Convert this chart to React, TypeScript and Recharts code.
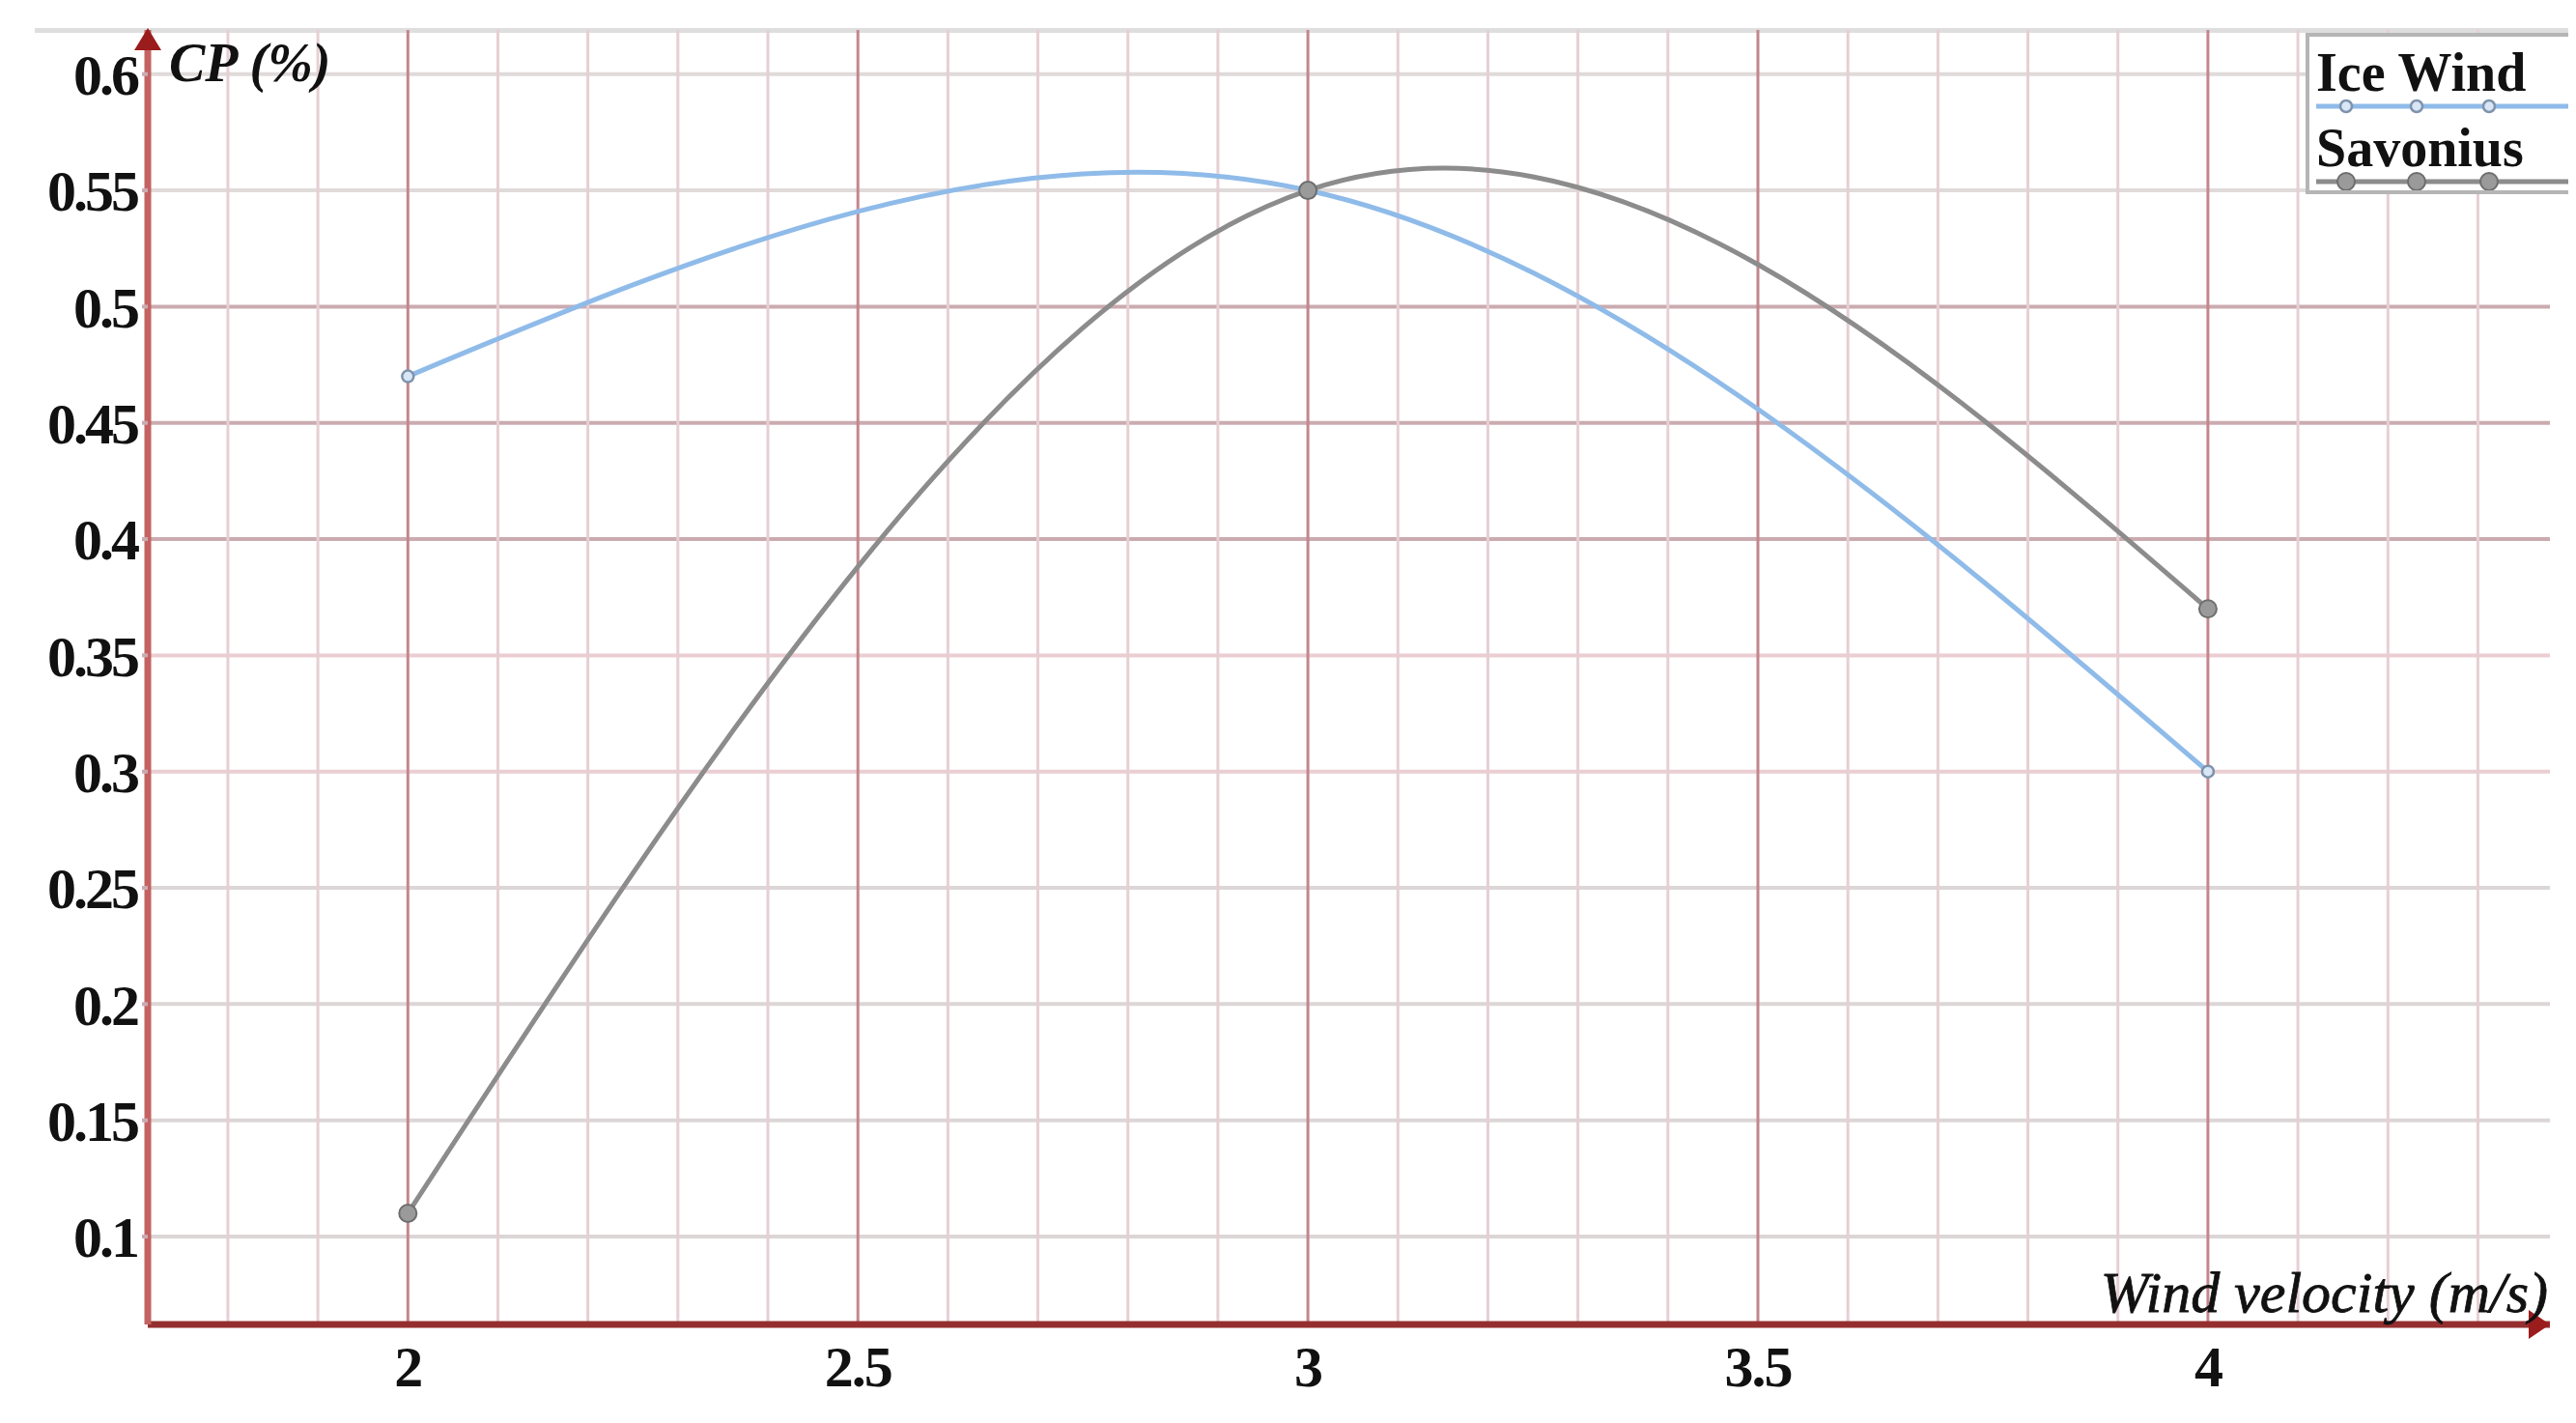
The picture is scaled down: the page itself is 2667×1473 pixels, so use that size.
import { LineChart, Line, XAxis, YAxis, ReferenceLine, Legend } from "recharts";

const velocity = [2, 3, 4];
const iceWind = [0.47, 0.55, 0.3];
const savonius = [0.11, 0.55, 0.37];

const xTicks = [2, 2.5, 3, 3.5, 4];
const xMinor = [
  1.8, 1.9, 2.1, 2.2, 2.3, 2.4, 2.6, 2.7, 2.8, 2.9, 3.1, 3.2, 3.3, 3.4, 3.6,
  3.7, 3.8, 3.9, 4.1, 4.2, 4.3,
];
const yTicks = [0.1, 0.15, 0.2, 0.25, 0.3, 0.35, 0.4, 0.45, 0.5, 0.55, 0.6];

const data = velocity.map((v, i) => ({
  v,
  iceWind: iceWind[i],
  savonius: savonius[i],
}));

const SERIF = "'Liberation Serif', 'Times New Roman', serif";
const BLUE = "#8fbbe9";
const GREY = "#8c8c8c";

// horizontal grid tints vary a bit in the original scan
function hColor(v: number) {
  if (v >= 0.55) return "#e0dada";
  if (v >= 0.4) return "#cbabb0";
  if (v >= 0.3) return "#ebcdd2";
  return "#dcd6d7";
}

function YAxisDecor(props: any) {
  const { x, y, width } = props.viewBox;
  const ax = x + width;
  return (
    <g>
      <polygon
        points={`${ax},${y - 2} ${ax - 14},${y + 21} ${ax + 14},${y + 21}`}
        fill="#9b1c1c"
      />
      <text
        x={ax + 22}
        y={y + 34}
        dominantBaseline="central"
        fontFamily={SERIF}
        fontStyle="italic"
        fontWeight={700}
        fontSize={56}
        fill="#111"
      >
        CP (%)
      </text>
    </g>
  );
}

function XAxisDecor(props: any) {
  const { x, y, width } = props.viewBox;
  const end = x + width;
  return (
    <g>
      <polygon
        points={`${end},${y} ${end - 22},${y - 15} ${end - 22},${y + 15}`}
        fill="#9b1c1c"
      />
      <text
        x={end - 2}
        y={y - 13}
        textAnchor="end"
        fontFamily={SERIF}
        fontStyle="italic"
        fontSize={60}
        fill="#111"
        stroke="#111"
        strokeWidth={0.8}
      >
        Wind velocity (m/s)
      </text>
    </g>
  );
}

function LegendBox({ payload }: any) {
  const items = payload || [];
  return (
    <div
      style={{
        width: 300,
        height: 167,
        boxSizing: "border-box",
        borderTop: "4px solid #b5b5b5",
        borderLeft: "4px solid #b5b5b5",
        borderBottom: "4px solid #b5b5b5",
        background: "#fff",
      }}
    >
      <svg width={296} height={159} style={{ display: "block" }}>
        {items.map((item: any, i: number) => {
          const ty = 37 + i * 78;
          const ly = ty + 35;
          const ice = item.dataKey === "iceWind";
          return (
            <g key={item.value}>
              <text
                x={7}
                y={ty}
                dominantBaseline="central"
                fontFamily={SERIF}
                fontWeight={700}
                fontSize={56}
                fill="#111"
              >
                {item.value}
              </text>
              <line x1={7} x2={296} y1={ly} y2={ly} stroke={item.color} strokeWidth={5} />
              {[38, 111, 186].map((mx) =>
                ice ? (
                  <circle key={mx} cx={mx} cy={ly} r={6} fill="#d8e6f6" stroke="#7f93ad" strokeWidth={2.5} />
                ) : (
                  <circle key={mx} cx={mx} cy={ly} r={9} fill="#9a9a9a" stroke="#6e6e6e" strokeWidth={2} />
                )
              )}
            </g>
          );
        })}
      </svg>
    </div>
  );
}

export default function App() {
  return (
    <div style={{ position: "relative", width: 2651, height: 1457, overflow: "hidden", background: "#fff" }}>
      <div
        style={{
          position: "absolute",
          top: 21,
          left: 28,
          right: 0,
          height: 5,
          background: "#dedede",
        }}
      />
      <LineChart
        width={2651}
        height={1457}
        data={data}
        margin={{ top: 23, right: 19, bottom: 0, left: 0 }}
      >
        {yTicks.map((t) => (
          <ReferenceLine key={`h${t}`} y={t} stroke={hColor(t)} strokeWidth={4} />
        ))}
        {xMinor.map((t) => (
          <ReferenceLine key={`m${t}`} x={t} stroke="#e6cfd3" strokeWidth={3} />
        ))}
        {xTicks.map((t) => (
          <ReferenceLine key={`M${t}`} x={t} stroke="#c4868d" strokeWidth={3} />
        ))}
        <XAxis
          dataKey="v"
          type="number"
          domain={[1.711, 4.38]}
          ticks={xTicks}
          allowDataOverflow
          height={94}
          axisLine={{ stroke: "#952f2f", strokeWidth: 7 }}
          tickLine={false}
          tickSize={10}
          tickMargin={11}
          tick={{ fontFamily: SERIF, fontWeight: 700, fontSize: 60, fill: "#111", letterSpacing: -2 }}
          label={XAxisDecor}
        />
        <YAxis
          type="number"
          domain={[0.0622, 0.619]}
          ticks={yTicks}
          allowDataOverflow
          width={145}
          axisLine={{ stroke: "#c46262", strokeWidth: 7 }}
          tickLine={{ stroke: "#cbabb0", strokeWidth: 4 }}
          tickSize={6}
          tickMargin={5}
          tick={{ fontFamily: SERIF, fontWeight: 700, fontSize: 60, fill: "#111", letterSpacing: -3 }}
          label={YAxisDecor}
        />
        <Line
          type="natural"
          dataKey="iceWind"
          name="Ice Wind"
          stroke={BLUE}
          strokeWidth={5}
          dot={{ r: 6, fill: "#d8e6f6", stroke: "#7f93ad", strokeWidth: 2.5 }}
          activeDot={false}
          isAnimationActive={false}
        />
        <Line
          type="natural"
          dataKey="savonius"
          name="Savonius"
          stroke={GREY}
          strokeWidth={5}
          dot={{ r: 9, fill: "#9a9a9a", stroke: "#6e6e6e", strokeWidth: 2 }}
          activeDot={false}
          isAnimationActive={false}
        />
        <Legend
          layout="horizontal"
          verticalAlign="middle"
          align="center"
          wrapperStyle={{ top: 26, left: 2379, width: 300 }}
          content={LegendBox}
        />
      </LineChart>
    </div>
  );
}
